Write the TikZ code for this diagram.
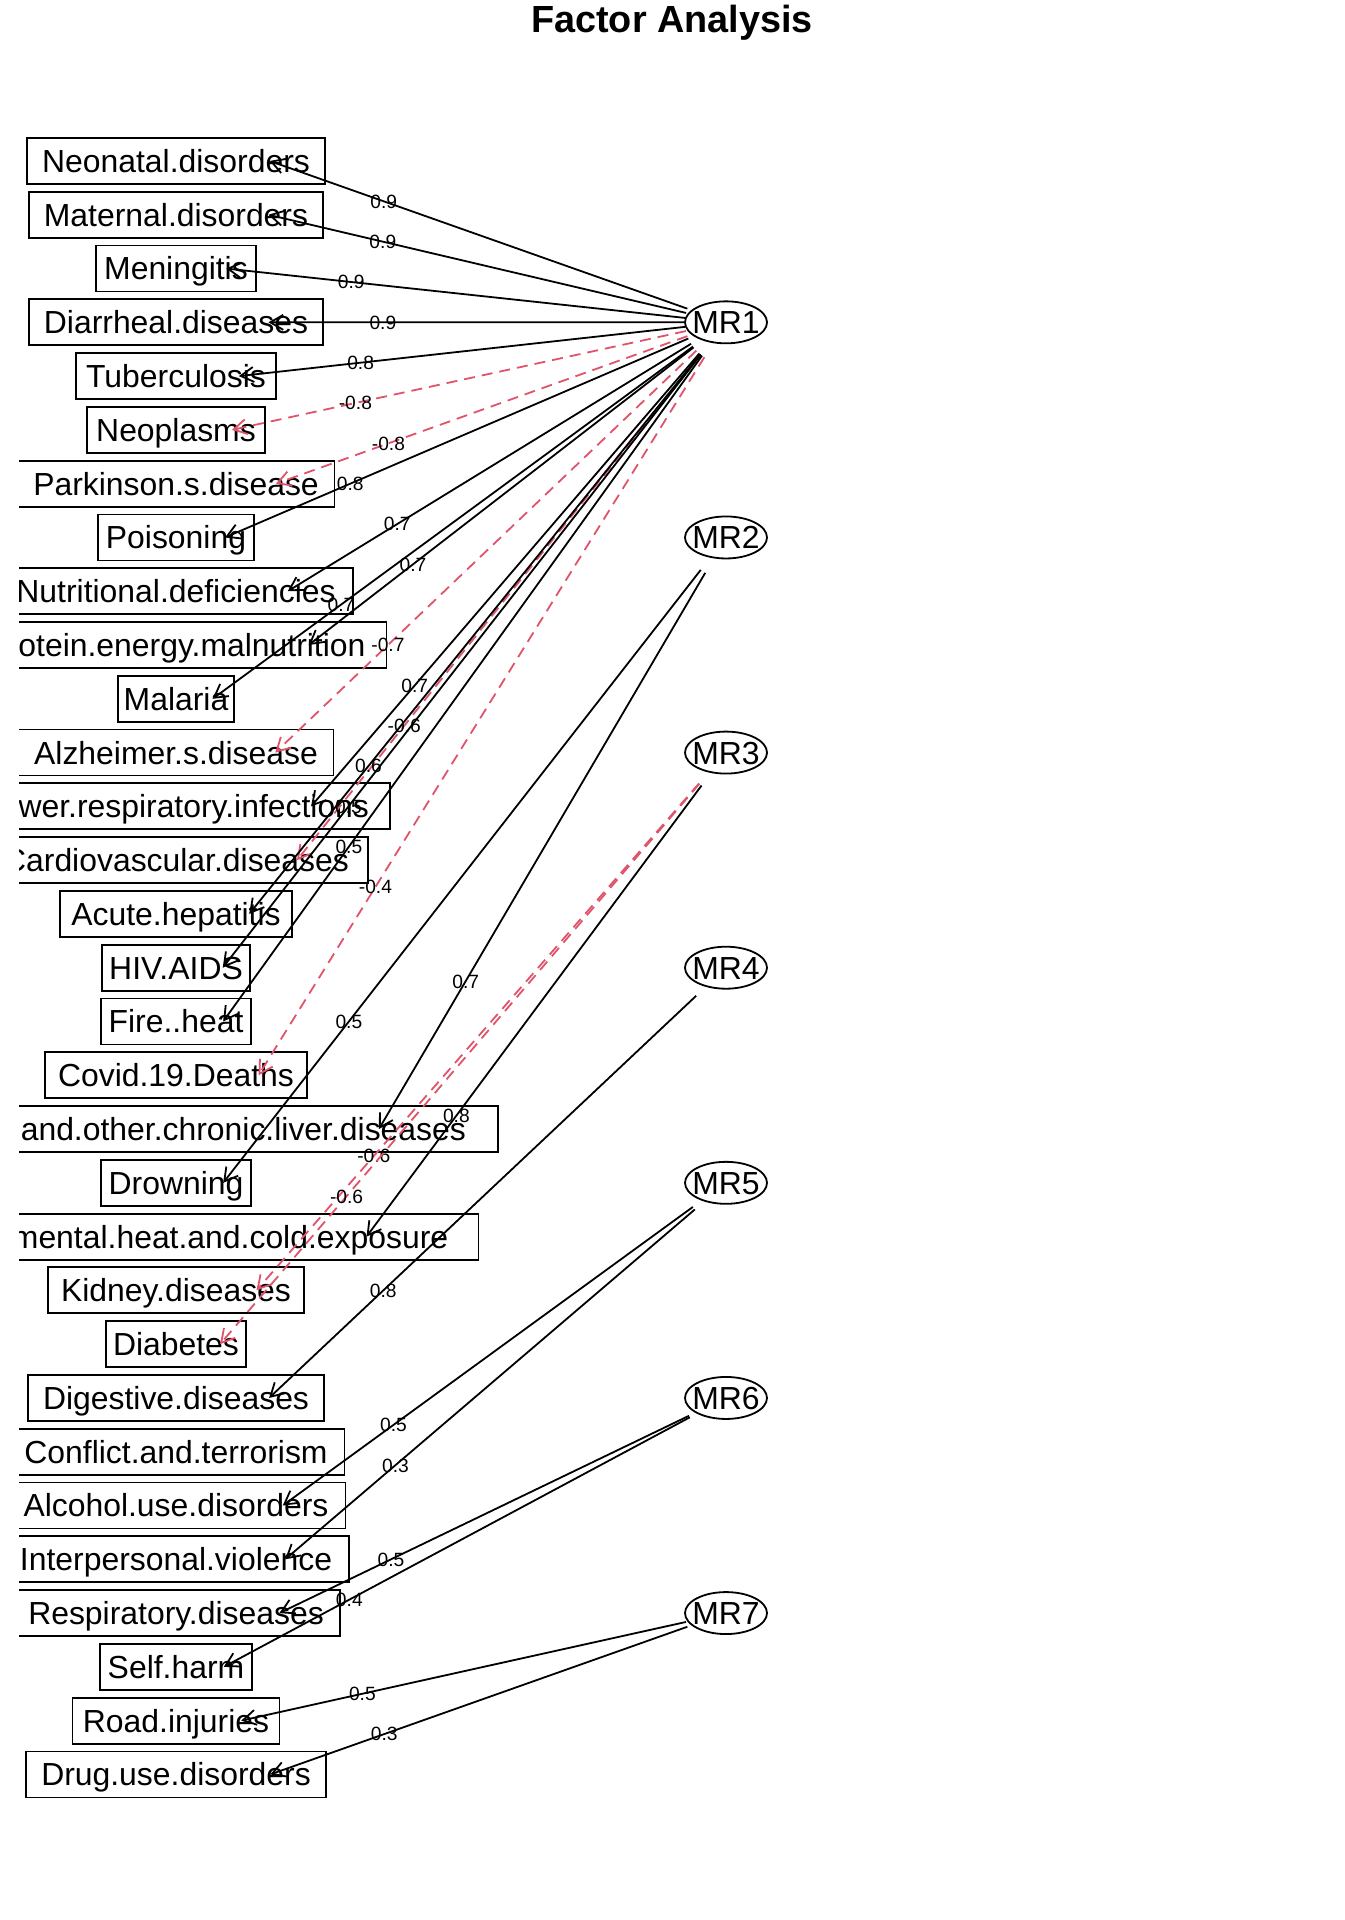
\documentclass[tikz,border=0pt]{standalone}
\usepackage{fontspec}
\setmainfont{Liberation Sans}
\usepackage{xcolor}
\usetikzlibrary{arrows.meta,positioning,shapes.geometric,calc}
\definecolor{negred}{HTML}{DF536B}

% box is 10/9 of the text width
\newcommand\padname[1]{\setbox0=\hbox{#1}\makebox[1.111\wd0]{#1}}
% factor -> variable, label at 3/4 of the way
\newcommand\loading[4]{%
  \coordinate (#2-tip) at ($(#2.center)!0.63!(#2.east)$);
  \draw[#4] ($(#1.center)!20.5pt!(#2-tip)$) -- (#2-tip);
  \node[lbl] (#2-lbl) at ($(#1.center)!0.75!(#2-tip)$) {#3};}

\begin{document}
\begin{tikzpicture}[
    x=0.5pt, y=-0.5pt,
    node distance=3.89pt,
    var/.style={draw, line width=0.9pt, inner sep=0pt, outer sep=0pt, minimum height=23pt, text height=11.42pt, text depth=0pt, font=\fontsize{15.95}{19}\selectfont},
    factor/.style={ellipse, draw, line width=0.9pt, inner sep=0pt, minimum width=41pt, minimum height=21pt, text height=11.42pt, text depth=0pt, font=\fontsize{15.95}{19}\selectfont},
    lbl/.style={inner sep=0pt, text height=6.9pt, text depth=0pt, font=\fontsize{9.6}{11}\selectfont},
    load/.style={-{Straight Barb[length=6.5pt,width=7.5pt]}, line width=0.9pt},
    negload/.style={load, negred, dash pattern=on 5.5pt off 3.5pt}
]
    \useasboundingbox (0,0) rectangle (1344,1920);
    \node[anchor=base, font=\fontsize{18.9}{23}\selectfont\bfseries] (title) at (672,33) {Factor Analysis};

    \begin{scope}
    \clip (19,0) rectangle (1344,1920);
    \node[var] (neonatal) at (176,161) {\padname{Neonatal.disorders}};
    \node[var, below=of neonatal] (maternal) {\padname{Maternal.disorders}};
    \node[var, below=of maternal] (meningitis) {\padname{Meningitis}};
    \node[var, below=of meningitis] (diarrheal) {\padname{Diarrheal.diseases}};
    \node[var, below=of diarrheal] (tuberculosis) {\padname{Tuberculosis}};
    \node[var, below=of tuberculosis] (neoplasms) {\padname{Neoplasms}};
    \node[var, below=of neoplasms] (parkinson) {\padname{Parkinson.s.disease}};
    \node[var, below=of parkinson] (poisoning) {\padname{Poisoning}};
    \node[var, below=of poisoning] (nutritional) {\padname{Nutritional.deficiencies}};
    \node[var, below=of nutritional] (protein) {\padname{Protein.energy.malnutrition}};
    \node[var, below=of protein] (malaria) {\padname{Malaria}};
    \node[var, below=of malaria] (alzheimer) {\padname{Alzheimer.s.disease}};
    \node[var, below=of alzheimer] (lowerresp) {\padname{Lower.respiratory.infections}};
    \node[var, below=of lowerresp] (cardio) {\padname{Cardiovascular.diseases}};
    \node[var, below=of cardio] (hepatitis) {\padname{Acute.hepatitis}};
    \node[var, below=of hepatitis] (hiv) {\padname{HIV.AIDS}};
    \node[var, below=of hiv] (fire) {\padname{Fire..heat}};
    \node[var, below=of fire] (covid) {\padname{Covid.19.Deaths}};
    \node[var, below=of covid] (liver) {\padname{Cirrhosis.and.other.chronic.liver.diseases}};
    \node[var, below=of liver] (drowning) {\padname{Drowning}};
    \node[var, below=of drowning] (heatcold) {\padname{Environmental.heat.and.cold.exposure}};
    \node[var, below=of heatcold] (kidney) {\padname{Kidney.diseases}};
    \node[var, below=of kidney] (diabetes) {\padname{Diabetes}};
    \node[var, below=of diabetes] (digestive) {\padname{Digestive.diseases}};
    \node[var, below=of digestive] (conflict) {\padname{Conflict.and.terrorism}};
    \node[var, below=of conflict] (alcohol) {\padname{Alcohol.use.disorders}};
    \node[var, below=of alcohol] (violence) {\padname{Interpersonal.violence}};
    \node[var, below=of violence] (respiratory) {\padname{Respiratory.diseases}};
    \node[var, below=of respiratory] (selfharm) {\padname{Self.harm}};
    \node[var, below=of selfharm] (road) {\padname{Road.injuries}};
    \node[var, below=of road] (druguse) {\padname{Drug.use.disorders}};
    \end{scope}

    \coordinate (fcol) at (726,0);
    \node[factor] (mr1) at (diarrheal -| fcol) {\makebox[0pt]{MR1}};
    \node[factor] (mr2) at (poisoning -| fcol) {\makebox[0pt]{MR2}};
    \node[factor] (mr3) at (alzheimer -| fcol) {\makebox[0pt]{MR3}};
    \node[factor] (mr4) at (hiv -| fcol) {\makebox[0pt]{MR4}};
    \node[factor] (mr5) at (drowning -| fcol) {\makebox[0pt]{MR5}};
    \node[factor] (mr6) at (digestive -| fcol) {\makebox[0pt]{MR6}};
    \node[factor] (mr7) at (respiratory -| fcol) {\makebox[0pt]{MR7}};

    \loading{mr1}{neonatal}{0.9}{load}
    \loading{mr1}{maternal}{0.9}{load}
    \loading{mr1}{meningitis}{0.9}{load}
    \loading{mr1}{diarrheal}{0.9}{load}
    \loading{mr1}{tuberculosis}{0.8}{load}
    \loading{mr1}{neoplasms}{-0.8}{negload}
    \loading{mr1}{parkinson}{-0.8}{negload}
    \loading{mr1}{poisoning}{0.8}{load}
    \loading{mr1}{nutritional}{0.7}{load}
    \loading{mr1}{protein}{0.7}{load}
    \loading{mr1}{malaria}{0.7}{load}
    \loading{mr1}{alzheimer}{-0.7}{negload}
    \loading{mr1}{lowerresp}{0.7}{load}
    \loading{mr1}{cardio}{-0.6}{negload}
    \loading{mr1}{hepatitis}{0.6}{load}
    \loading{mr1}{hiv}{0.5}{load}
    \loading{mr1}{fire}{0.5}{load}
    \loading{mr1}{covid}{-0.4}{negload}
    \loading{mr2}{liver}{0.7}{load}
    \loading{mr2}{drowning}{0.5}{load}
    \loading{mr3}{heatcold}{0.8}{load}
    \loading{mr3}{kidney}{-0.6}{negload}
    \loading{mr3}{diabetes}{-0.6}{negload}
    \loading{mr4}{digestive}{0.8}{load}
    \loading{mr5}{alcohol}{0.5}{load}
    \loading{mr5}{violence}{0.3}{load}
    \loading{mr6}{respiratory}{0.5}{load}
    \loading{mr6}{selfharm}{0.4}{load}
    \loading{mr7}{road}{0.5}{load}
    \loading{mr7}{druguse}{0.3}{load}
\end{tikzpicture}
\end{document}
